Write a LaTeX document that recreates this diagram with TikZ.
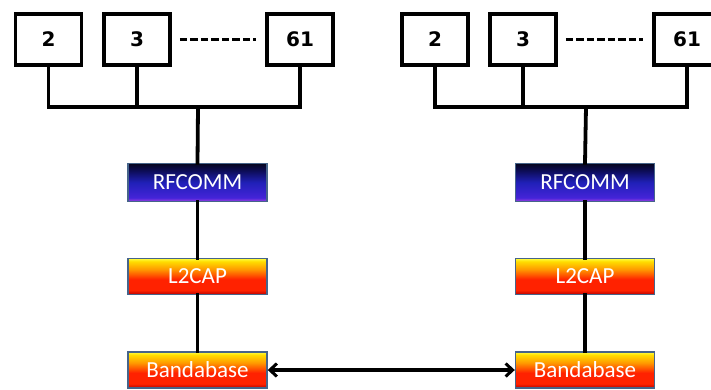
\documentclass[tikz,border=0pt]{standalone}
\usepackage{fontspec}
\usetikzlibrary{arrows.meta}
\newfontfamily\stackfont{Carlito}
\newfontfamily\portfont{DejaVu Sans}

% gradient colours
\definecolor{rfTop}{HTML}{05051E}
\definecolor{rfUpper}{HTML}{0C0C55}
\definecolor{rfMid}{HTML}{2020B8}
\definecolor{rfLow}{HTML}{4424D8}
\definecolor{rfBottom}{HTML}{A040E0}
\definecolor{lyTop}{HTML}{FFFF40}
\definecolor{lyYellow}{HTML}{FFDD00}
\definecolor{lyOrange}{HTML}{FF9900}
\definecolor{lyRed}{HTML}{FF2200}
\definecolor{lyBottom}{HTML}{B80000}
\definecolor{stackEdge}{HTML}{46648A}

\pgfdeclareverticalshading{rfshade}{100bp}{%
  color(0bp)=(rfBottom); color(25bp)=(rfBottom); color(30bp)=(rfLow);
  color(50bp)=(rfMid); color(66bp)=(rfUpper); color(75bp)=(rfTop); color(100bp)=(rfTop)}
\pgfdeclareverticalshading{layershade}{100bp}{%
  color(0bp)=(lyBottom); color(25bp)=(lyBottom); color(31bp)=(lyRed);
  color(46bp)=(lyRed); color(60bp)=(lyOrange); color(71bp)=(lyYellow);
  color(75bp)=(lyTop); color(100bp)=(lyTop)}

\tikzset{
  portbox/.style={draw=black, line width=3.8pt, fill=white, minimum width=66pt,
    minimum height=51pt, inner sep=0pt, font=\portfont\bfseries\fontsize{20}{20}\selectfont},
  stackbox/.style={draw=stackEdge, line width=1.4pt, minimum width=139pt, inner sep=0pt,
    text=white, font=\stackfont\fontsize{23}{23}\selectfont},
  rfbox/.style={stackbox, shading=rfshade, minimum height=38pt},
  layerbox/.style={stackbox, shading=layershade, minimum height=36pt},
  wire/.style={line width=3.8pt, line cap=rect},
  ellipsis/.style={line width=3.6pt, dash pattern=on 7.5pt off 3pt, shorten <=8pt, shorten >=9pt},
  link/.style={line width=3.8pt, {Straight Barb[length=7pt,width=13pt,line width=3pt]}-{Straight Barb[length=7pt,width=13pt,line width=3pt]}}
}

\begin{document}
\begin{tikzpicture}[x=1pt, y=-1pt]
\clip (0,0) rectangle (711,389);
\fill[white] (0,0) rectangle (711,389);

% ---- left device ----
\node[portbox] (lp2)  at (48.5,39.5) {2};
\node[portbox] (lp3)  at (137,39.5) {3};
\node[portbox] (lp61) at (300,39.5) {61};
\draw[ellipsis] (lp3.east) -- (lp61.west);

\node[rfbox]    (lrf)  at (197.5,182.5) {RFCOMM};
\node[layerbox] (ll2)  at (197.5,276.5) {L2CAP};
\node[layerbox] (lbb)  at (197.5,370)   {Bandabase};

\coordinate (lbus) at (198,107);
\draw[wire] (lp2.south) |- (lbus) -| (lp61.south);
\draw[wire] (lp3.south) -- (lp3.south |- lbus);
\draw[wire] (lbus) -- (lrf.north);
\draw[wire] (lrf.south) -- (ll2.north);
\draw[wire] (ll2.south) -- (lbb.north);

% ---- right device ----
\node[portbox] (rp2)  at (435,39.5) {2};
\node[portbox] (rp3)  at (523,39.5) {3};
\node[portbox] (rp61) at (687,39.5) {61};
\draw[ellipsis] (rp3.east) -- (rp61.west);

\node[rfbox]    (rrf)  at (585,182.5) {RFCOMM};
\node[layerbox] (rl2)  at (585,276.5) {L2CAP};
\node[layerbox] (rbb)  at (585,370)   {Bandabase};

\coordinate (rbus) at (586,107);
\draw[wire] (rp2.south) |- (rbus) -| (rp61.south);
\draw[wire] (rp3.south) -- (rp3.south |- rbus);
\draw[wire] (rbus) -- (rrf.north);
\draw[wire] (rrf.south) -- (rl2.north);
\draw[wire] (rl2.south) -- (rbb.north);

% ---- baseband link ----
\draw[link] (lbb.east) -- (rbb.west);
\end{tikzpicture}
\end{document}
